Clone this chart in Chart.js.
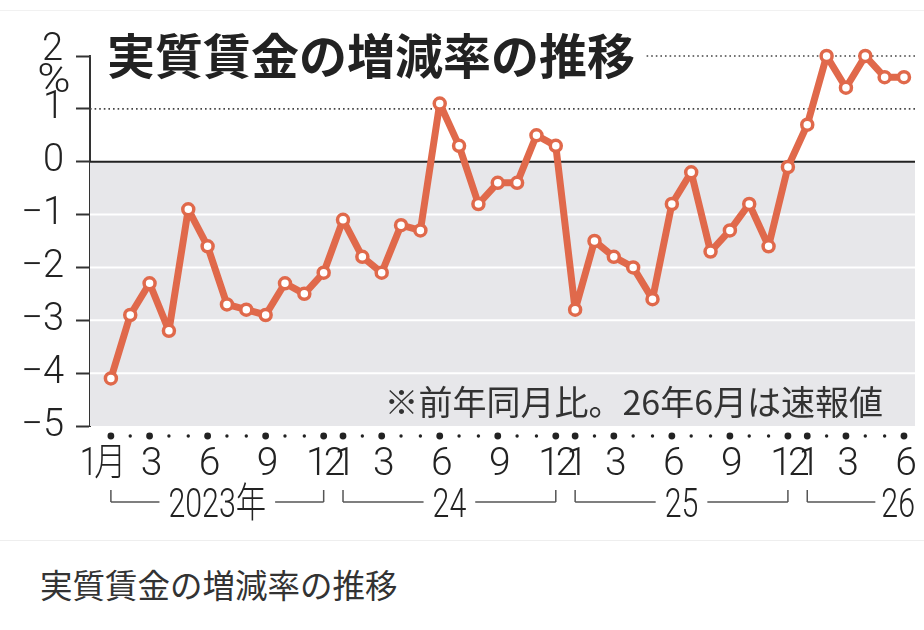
<!DOCTYPE html>
<html lang="ja">
<head>
<meta charset="utf-8">
<title>実質賃金の増減率の推移</title>
<script src="https://cdn.jsdelivr.net/npm/chart.js@4.4.1/dist/chart.umd.min.js"></script>
<style>
html, body { margin: 0; padding: 0; background: #fff; }
#wrap { position: relative; width: 924px; height: 540px; }
#topline { position: absolute; left: 0; top: 10px; width: 924px; height: 1px; background: #f1f1f1; }
#caption {
	width: 884px; height: 89px; border-top: 1px solid #eeeeee;
	padding: 23px 0 0 40px; line-height: 40px;
	font-family: 'Noto Sans CJK JP', sans-serif; font-size: 32.5px; color: #333;
}
</style>
</head>
<body>
<div id="wrap">
	<canvas id="wageChart" width="924" height="540"></canvas>
	<div id="topline"></div>
</div>
<div id="caption">実質賃金の増減率の推移</div>
<script>
'use strict';

// *** Data ***
const months = [
	1, 2, 3, 4, 5, 6, 7, 8, 9, 10, 11, 12,
	1, 2, 3, 4, 5, 6, 7, 8, 9, 10, 11, 12,
	1, 2, 3, 4, 5, 6, 7, 8, 9, 10, 11, 12,
	1, 2, 3, 4, 5, 6,
];
const yearLabels = ['2023年', '24', '25', '26'];
const realWage = [
	-4.1, -2.9, -2.3, -3.2, -0.9, -1.6, -2.7, -2.8, -2.9, -2.3, -2.5, -2.1,
	-1.1, -1.8, -2.1, -1.2, -1.3, 1.1, 0.3, -0.8, -0.4, -0.4, 0.5, 0.3,
	-2.8, -1.5, -1.8, -2.0, -2.6, -0.8, -0.2, -1.7, -1.3, -0.8, -1.6, -0.1,
	0.7, 2.0, 1.4, 2.0, 1.6, 1.6,
];
const labeledMonths = [1, 3, 6, 9, 12];
const yTicks = [2, 1, 0, -1, -2, -3, -4, -5];
const titleText = '実質賃金の増減率の推移';
const noteText = '※前年同月比。26年6月は速報値';

const LINE_COLOR = '#e0694b';
const DIGITS = "Roboto, 'Noto Sans CJK JP', sans-serif";
const CJK = "'Noto Sans CJK JP', sans-serif";

// year groups: [start index, end index]
function yearGroups() {
	const groups = [];
	months.forEach((m, i) => {
		if (i === 0 || m === 1) groups.push([i, i]);
		groups[groups.length - 1][1] = i;
	});
	return groups;
}

function hLine(ctx, x1, x2, y) {
	ctx.beginPath();
	ctx.moveTo(x1, y);
	ctx.lineTo(x2, y);
	ctx.stroke();
}

function vLine(ctx, x, y1, y2) {
	ctx.beginPath();
	ctx.moveTo(x, y1);
	ctx.lineTo(x, y2);
	ctx.stroke();
}

// text squeezed horizontally
function narrowText(ctx, text, x, y, align, sx) {
	ctx.save();
	ctx.translate(x, y);
	ctx.scale(sx, 1);
	ctx.textAlign = align;
	ctx.fillText(text, 0, 0);
	ctx.restore();
}

const decor = {
	id: 'decor',
	beforeDatasetsDraw(chart) {
		const { ctx, chartArea: a, scales: { y } } = chart;
		ctx.save();
		const y0 = y.getPixelForValue(0);
		ctx.fillStyle = '#e7e7ea';
		ctx.fillRect(a.left, y0, a.right - a.left, a.bottom - y0);

		ctx.strokeStyle = '#ffffff';
		ctx.lineWidth = 2;
		yTicks.filter(v => v < 0 && v > -5).forEach(v => hLine(ctx, a.left, a.right, y.getPixelForValue(v)));

		ctx.strokeStyle = '#444';
		ctx.lineWidth = 1.6;
		ctx.setLineDash([1.6, 3]);
		yTicks.filter(v => v > 0).forEach(v => hLine(ctx, a.left, a.right, y.getPixelForValue(v)));
		ctx.setLineDash([]);

		ctx.strokeStyle = '#222';
		ctx.lineWidth = 2;
		hLine(ctx, a.left, a.right, y0);

		// title on a white box
		ctx.font = 'bold 48px ' + CJK;
		const tw = ctx.measureText(titleText).width;
		ctx.fillStyle = '#fff';
		ctx.fillRect(a.left + 1, a.top - 28, 108 - a.left + tw + 8, 48);
		ctx.fillStyle = '#222';
		ctx.textBaseline = 'middle';
		ctx.textAlign = 'left';
		ctx.fillText(titleText, 107, a.top);

		// note
		ctx.font = '34px ' + CJK;
		ctx.fillStyle = '#333';
		ctx.textAlign = 'right';
		ctx.fillText(noteText, 883, 402);
		ctx.restore();
	},
	afterDraw(chart) {
		const { ctx, chartArea: a, scales: { x, y } } = chart;
		ctx.save();
		ctx.textBaseline = 'middle';
		ctx.fillStyle = '#222';

		// month dots and labels under the axis
		ctx.font = '300 39px ' + DIGITS;
		ctx.letterSpacing = '-4px';
		months.forEach((m, i) => {
			const px = x.getPixelForValue(i);
			const major = labeledMonths.includes(m);
			ctx.beginPath();
			ctx.arc(px, a.bottom + 10, major ? 3.4 : 1.7, 0, Math.PI * 2);
			ctx.fill();
			if (!major) return;
			if (i === 0) narrowText(ctx, '1月', px + 12, 465, 'right', 0.82);
			else narrowText(ctx, String(m), px, 465, 'center', 1);
		});
		ctx.letterSpacing = '0px';

		// top tick value sits above its tick, with the unit below it
		const top = yTicks[0];
		ctx.font = '300 38px ' + DIGITS;
		narrowText(ctx, String(top), 63, y.getPixelForValue(top) - 6, 'right', 1);
		ctx.font = '300 41px ' + DIGITS;
		narrowText(ctx, '%', 54, y.getPixelForValue(top - 0.5) - 1, 'center', 1.1);

		// year brackets
		const by = 502;
		const ty = 507;
		const sx = 0.74;
		ctx.strokeStyle = '#555';
		ctx.lineWidth = 1.5;
		ctx.font = '300 41px ' + DIGITS;
		yearGroups().forEach(([s, e], k) => {
			const xs = x.getPixelForValue(s);
			const xe = x.getPixelForValue(e);
			const label = yearLabels[k];
			const tw = ctx.measureText(label).width * sx;
			vLine(ctx, xs, by - 12, by);
			if (e - s === 11) {
				const mid = (xs + xe) / 2;
				hLine(ctx, xs, mid - tw / 2 - 9, by);
				hLine(ctx, mid + tw / 2 + 9, xe, by);
				vLine(ctx, xe, by - 12, by);
				narrowText(ctx, label, mid, ty, 'center', sx);
			} else {
				hLine(ctx, xs, a.right - tw - 6, by);
				narrowText(ctx, label, a.right, ty, 'right', sx);
			}
		});
		ctx.restore();
	},
};

// *** Entry Point ***
new Chart(document.getElementById('wageChart'), {
	type: 'line',
	data: {
		datasets: [{
			data: realWage.map((v, i) => ({ x: i, y: v })),
			borderColor: LINE_COLOR,
			borderWidth: 7,
			borderJoinStyle: 'round',
			borderCapStyle: 'round',
			pointRadius: 5.5,
			pointBorderWidth: 3.5,
			pointBackgroundColor: '#fff',
			pointBorderColor: LINE_COLOR,
			tension: 0,
			clip: false,
		}],
	},
	options: {
		responsive: false,
		animation: false,
		devicePixelRatio: 1,
		layout: { padding: { top: 56, right: 6, left: 0, bottom: 0 } },
		plugins: { legend: { display: false }, tooltip: { enabled: false } },
		scales: {
			x: {
				type: 'linear',
				min: -1.08,
				max: 41.57,
				grid: { display: false },
				border: { display: false },
				afterBuildTicks: (s) => { s.ticks = months.map((m, i) => ({ value: i })); },
				afterFit: (s) => { s.height = 114; s.paddingLeft = 0; s.paddingRight = 0; },
				ticks: { display: false },
			},
			y: {
				min: -5,
				max: 2,
				afterBuildTicks: (s) => { s.ticks = yTicks.map(v => ({ value: v })); },
				afterFit: (s) => { s.width = 90; },
				grid: { drawOnChartArea: false, tickLength: 14, tickColor: '#333', tickWidth: 2 },
				border: { display: true, color: '#333', width: 2 },
				ticks: {
					padding: 12,
					color: '#222',
					font: { family: DIGITS, size: 38, weight: '300' },
					callback: (v) => (v === yTicks[0] ? '' : v < 0 ? '−' + Math.abs(v) : String(v)),
				},
			},
		},
	},
	plugins: [decor],
});
</script>
</body>
</html>
